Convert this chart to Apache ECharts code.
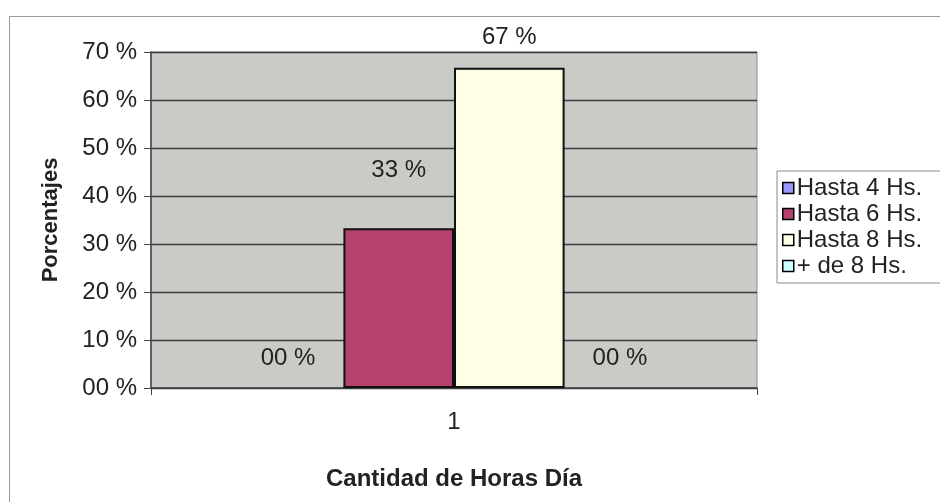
<!DOCTYPE html>
<html>
<head>
<meta charset="utf-8">
<title>Cantidad de Horas Día</title>
<script src="https://cdn.jsdelivr.net/npm/echarts@6/dist/echarts.min.js"></script>
<style>
  html, body { margin: 0; padding: 0; background: #fff; }
  #chart { width: 940px; height: 502px; }
</style>
</head>
<body>
<div id="chart"></div>
<script>
// datos
const categorias = ['1']
const series = ['Hasta 4 Hs.', 'Hasta 6 Hs.', 'Hasta 8 Hs.', '+ de 8 Hs.']
const valores = [0, 33.3, 66.7, 0]
const colores = ['#9999ff', '#b5426e', '#fefee4', '#ccffff']
const distEtiqueta = [18, 46, 18, 18]

const FONT = '"Liberation Sans", Arial, sans-serif'

function dosDigitos(v) {
  const n = Math.round(v)
  return (n < 10 ? '0' : '') + n + ' %'
}

const myChart = echarts.init(document.getElementById('chart'))

const option = {
  animation: false,
  textStyle: { fontFamily: FONT, color: '#222' },
  graphic: [
    {
      type: 'rect',
      shape: { x: 9.5, y: 16.5, width: 940, height: 500 },
      style: { fill: 'none', stroke: '#9a9a9a', lineWidth: 1 },
      silent: true
    }
  ],
  legend: {
    orient: 'vertical',
    left: 777,
    top: 171,
    data: series,
    icon: 'rect',
    itemWidth: 11,
    itemHeight: 11,
    itemGap: 2,
    padding: [5, 30, 5, 5],
    backgroundColor: '#fff',
    borderColor: '#8a8a8a',
    borderWidth: 1,
    itemStyle: { borderColor: '#000', borderWidth: 1.5 },
    textStyle: { fontFamily: FONT, fontSize: 24, color: '#222', padding: [0, 0, 0, -2] }
  },
  grid: {
    left: 151,
    right: 183,
    top: 52,
    bottom: 114,
    show: true,
    backgroundColor: '#c9cbc6',
    borderColor: '#8c8c8c',
    borderWidth: 1,
    containLabel: false
  },
  xAxis: {
    type: 'category',
    data: categorias,
    name: 'Cantidad de Horas Día',
    nameLocation: 'middle',
    nameGap: 79,
    nameTextStyle: { fontFamily: FONT, fontSize: 24, fontWeight: 'bold', color: '#222' },
    axisLine: { lineStyle: { color: '#444', width: 1.5 } },
    axisTick: { show: true, length: 7, lineStyle: { color: '#444' } },
    axisLabel: { margin: 22, fontSize: 24, color: '#222', fontFamily: FONT }
  },
  yAxis: {
    type: 'value',
    min: 0,
    max: 70,
    interval: 10,
    name: 'Porcentajes',
    nameLocation: 'middle',
    nameGap: 89,
    nameTextStyle: { fontFamily: FONT, fontSize: 22, fontWeight: 'bold', color: '#222' },
    axisLine: { show: true, lineStyle: { color: '#444', width: 1.5 } },
    axisTick: { show: true, length: 7, lineStyle: { color: '#444' } },
    axisLabel: {
      margin: 14,
      fontSize: 24,
      color: '#222',
      fontFamily: FONT,
      formatter: dosDigitos
    },
    splitLine: { show: true, lineStyle: { color: '#3a3a3a', width: 1.3 } }
  },
  series: series.map((nombre, i) => {
    return {
      name: nombre,
      type: 'bar',
      data: [valores[i]],
      barGap: '0%',
      barCategoryGap: '27%',
      itemStyle: {
        color: colores[i],
        borderColor: '#111',
        borderWidth: valores[i] > 0 ? 2 : 0
      },
      label: {
        show: true,
        position: 'top',
        distance: distEtiqueta[i],
        fontSize: 24,
        fontFamily: FONT,
        color: '#222',
        formatter: p => dosDigitos(p.value)
      }
    }
  })
}

myChart.setOption(option)
</script>
</body>
</html>
